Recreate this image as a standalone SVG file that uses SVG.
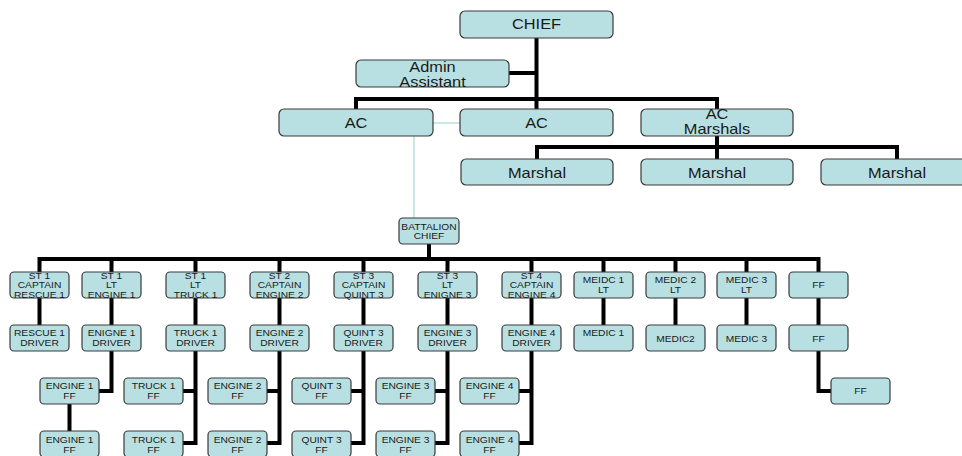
<svg xmlns="http://www.w3.org/2000/svg" width="962" height="456" viewBox="0 0 962 456">
<style>
.b{fill:#b8dfe2;stroke:#3a3a3a;stroke-width:1.2}
.L{font-family:"Liberation Sans",Arial,sans-serif;font-size:14px;fill:#1a1a1a;text-anchor:middle}
.S{font-family:"Liberation Sans",Arial,sans-serif;font-size:9.3px;fill:#1a1a1a;text-anchor:middle}
.k{stroke:#000;stroke-width:4;fill:none}
.lb{stroke:#b8dfe2;stroke-width:1.5;fill:none}
</style>
<rect width="962" height="456" fill="#fff"/>
<g id="connectors">
<path class="k" d="M536.5,38V109M509,73H536.5M356,99H717M356,97V109M717,97V109"/>
<path class="k" d="M717,136V159M537,147H897M537,145V159M897,145V159"/>
<path class="lb" d="M433,123H460M414,136V218"/>
<path class="k" d="M429,244V259M39.5,259H818.5M39.5,257V272M111.5,257V272M195.5,257V272M279.5,257V272M363.5,257V272M447.5,257V272M531.5,257V272M603.5,257V272M675.5,257V272M746.5,257V272M818.5,257V272"/>
<path class="k" d="M39.5,298V325M111.5,298V325M195.5,298V325M279.5,298V325M363.5,298V325M447.5,298V325M531.5,298V325M603.5,298V325M675.5,298V325M746.5,298V325M818.5,298V325"/>
<path class="k" d="M111.5,351V391H99M69.5,404V431"/>
<path class="k" d="M195.5,351V443H183M195.5,391H183"/>
<path class="k" d="M279.5,351V443H267M279.5,391H267"/>
<path class="k" d="M363.5,351V443H351M363.5,391H351"/>
<path class="k" d="M447.5,351V443H435M447.5,391H435"/>
<path class="k" d="M531.5,351V443H519M531.5,391H519"/>
<path class="k" d="M818.5,351V391H831"/>
</g>
<g id="chief"><rect class="b" x="460" y="11" width="153" height="27" rx="5"/><text class="L" transform="translate(536.5,11) scale(1.17,1)"><tspan x="0" y="18.3">CHIEF</tspan></text></g>
<g id="admin"><rect class="b" x="356" y="60" width="153" height="27" rx="5"/><text class="L" transform="translate(432.5,60) scale(1.17,1)"><tspan x="0" y="11.7">Admin</tspan><tspan x="0" y="26.7">Assistant</tspan></text></g>
<g id="ac1"><rect class="b" x="279" y="109" width="154" height="27" rx="5"/><text class="L" transform="translate(356,109) scale(1.17,1)"><tspan x="0" y="19">AC</tspan></text></g>
<g id="ac2"><rect class="b" x="460" y="109" width="153" height="27" rx="5"/><text class="L" transform="translate(536.5,109) scale(1.17,1)"><tspan x="0" y="19">AC</tspan></text></g>
<g id="acm"><rect class="b" x="641" y="109" width="152" height="27" rx="5"/><text class="L" transform="translate(717,109) scale(1.17,1)"><tspan x="0" y="10">AC</tspan><tspan x="0" y="25">Marshals</tspan></text></g>
<g id="m1"><rect class="b" x="461" y="159" width="152" height="26" rx="5"/><text class="L" transform="translate(537,159) scale(1.17,1)"><tspan x="0" y="18.7">Marshal</tspan></text></g>
<g id="m2"><rect class="b" x="641" y="159" width="152" height="26" rx="5"/><text class="L" transform="translate(717,159) scale(1.17,1)"><tspan x="0" y="18.7">Marshal</tspan></text></g>
<g id="m3"><rect class="b" x="821" y="159" width="152" height="26" rx="5"/><text class="L" transform="translate(897,159) scale(1.17,1)"><tspan x="0" y="18.7">Marshal</tspan></text></g>
<g id="bc"><rect class="b" x="399" y="218" width="60" height="26" rx="4"/><text class="S" transform="translate(429,218) scale(1.1,1)"><tspan x="0" y="12">BATTALION</tspan><tspan x="0" y="21.3">CHIEF</tspan></text></g>

<g id="c1r1"><rect class="b" x="10" y="272" width="59" height="26" rx="4"/><text class="S" transform="translate(39.5,272) scale(1.1,1)"><tspan x="0" y="6.5">ST 1</tspan><tspan x="0" y="16.3">CAPTAIN</tspan><tspan x="0" y="26">RESCUE 1</tspan></text></g>
<g id="c1r2"><rect class="b" x="10" y="325" width="59" height="26" rx="4"/><text class="S" transform="translate(39.5,325) scale(1.1,1)"><tspan x="0" y="11.3">RESCUE 1</tspan><tspan x="0" y="21">DRIVER</tspan></text></g>

<g id="c2r1"><rect class="b" x="82" y="272" width="59" height="26" rx="4"/><text class="S" transform="translate(111.5,272) scale(1.1,1)"><tspan x="0" y="6.5">ST 1</tspan><tspan x="0" y="16.3">LT</tspan><tspan x="0" y="26">ENGINE 1</tspan></text></g>
<g id="c2r2"><rect class="b" x="82" y="325" width="59" height="26" rx="4"/><text class="S" transform="translate(111.5,325) scale(1.1,1)"><tspan x="0" y="11.3">ENIGNE 1</tspan><tspan x="0" y="21">DRIVER</tspan></text></g>
<g id="c2r3"><rect class="b" x="40" y="378" width="59" height="26" rx="4"/><text class="S" transform="translate(69.5,378) scale(1.1,1)"><tspan x="0" y="11.3">ENGINE 1</tspan><tspan x="0" y="21.3">FF</tspan></text></g>
<g id="c2r4"><rect class="b" x="40" y="431" width="59" height="26" rx="4"/><text class="S" transform="translate(69.5,431) scale(1.1,1)"><tspan x="0" y="12.3">ENGINE 1</tspan><tspan x="0" y="21.7">FF</tspan></text></g>

<g id="c3r1"><rect class="b" x="166" y="272" width="59" height="26" rx="4"/><text class="S" transform="translate(195.5,272) scale(1.1,1)"><tspan x="0" y="6.5">ST 1</tspan><tspan x="0" y="16.3">LT</tspan><tspan x="0" y="26">TRUCK 1</tspan></text></g>
<g id="c3r2"><rect class="b" x="166" y="325" width="59" height="26" rx="4"/><text class="S" transform="translate(195.5,325) scale(1.1,1)"><tspan x="0" y="11.3">TRUCK 1</tspan><tspan x="0" y="21">DRIVER</tspan></text></g>
<g id="c3r3"><rect class="b" x="124" y="378" width="59" height="26" rx="4"/><text class="S" transform="translate(153.5,378) scale(1.1,1)"><tspan x="0" y="11.3">TRUCK 1</tspan><tspan x="0" y="21.3">FF</tspan></text></g>
<g id="c3r4"><rect class="b" x="124" y="431" width="59" height="26" rx="4"/><text class="S" transform="translate(153.5,431) scale(1.1,1)"><tspan x="0" y="12.3">TRUCK 1</tspan><tspan x="0" y="21.7">FF</tspan></text></g>

<g id="c4r1"><rect class="b" x="250" y="272" width="59" height="26" rx="4"/><text class="S" transform="translate(279.5,272) scale(1.1,1)"><tspan x="0" y="6.5">ST 2</tspan><tspan x="0" y="16.3">CAPTAIN</tspan><tspan x="0" y="26">ENGINE 2</tspan></text></g>
<g id="c4r2"><rect class="b" x="250" y="325" width="59" height="26" rx="4"/><text class="S" transform="translate(279.5,325) scale(1.1,1)"><tspan x="0" y="11.3">ENGINE 2</tspan><tspan x="0" y="21">DRIVER</tspan></text></g>
<g id="c4r3"><rect class="b" x="208" y="378" width="59" height="26" rx="4"/><text class="S" transform="translate(237.5,378) scale(1.1,1)"><tspan x="0" y="11.3">ENGINE 2</tspan><tspan x="0" y="21.3">FF</tspan></text></g>
<g id="c4r4"><rect class="b" x="208" y="431" width="59" height="26" rx="4"/><text class="S" transform="translate(237.5,431) scale(1.1,1)"><tspan x="0" y="12.3">ENGINE 2</tspan><tspan x="0" y="21.7">FF</tspan></text></g>

<g id="c5r1"><rect class="b" x="334" y="272" width="59" height="26" rx="4"/><text class="S" transform="translate(363.5,272) scale(1.1,1)"><tspan x="0" y="6.5">ST 3</tspan><tspan x="0" y="16.3">CAPTAIN</tspan><tspan x="0" y="26">QUINT 3</tspan></text></g>
<g id="c5r2"><rect class="b" x="334" y="325" width="59" height="26" rx="4"/><text class="S" transform="translate(363.5,325) scale(1.1,1)"><tspan x="0" y="11.3">QUINT 3</tspan><tspan x="0" y="21">DRIVER</tspan></text></g>
<g id="c5r3"><rect class="b" x="292" y="378" width="59" height="26" rx="4"/><text class="S" transform="translate(321.5,378) scale(1.1,1)"><tspan x="0" y="11.3">QUINT 3</tspan><tspan x="0" y="21.3">FF</tspan></text></g>
<g id="c5r4"><rect class="b" x="292" y="431" width="59" height="26" rx="4"/><text class="S" transform="translate(321.5,431) scale(1.1,1)"><tspan x="0" y="12.3">QUINT 3</tspan><tspan x="0" y="21.7">FF</tspan></text></g>

<g id="c6r1"><rect class="b" x="418" y="272" width="59" height="26" rx="4"/><text class="S" transform="translate(447.5,272) scale(1.1,1)"><tspan x="0" y="6.5">ST 3</tspan><tspan x="0" y="16.3">LT</tspan><tspan x="0" y="26">ENIGNE 3</tspan></text></g>
<g id="c6r2"><rect class="b" x="418" y="325" width="59" height="26" rx="4"/><text class="S" transform="translate(447.5,325) scale(1.1,1)"><tspan x="0" y="11.3">ENGINE 3</tspan><tspan x="0" y="21">DRIVER</tspan></text></g>
<g id="c6r3"><rect class="b" x="376" y="378" width="59" height="26" rx="4"/><text class="S" transform="translate(405.5,378) scale(1.1,1)"><tspan x="0" y="11.3">ENGINE 3</tspan><tspan x="0" y="21.3">FF</tspan></text></g>
<g id="c6r4"><rect class="b" x="376" y="431" width="59" height="26" rx="4"/><text class="S" transform="translate(405.5,431) scale(1.1,1)"><tspan x="0" y="12.3">ENGINE 3</tspan><tspan x="0" y="21.7">FF</tspan></text></g>

<g id="c7r1"><rect class="b" x="502" y="272" width="59" height="26" rx="4"/><text class="S" transform="translate(531.5,272) scale(1.1,1)"><tspan x="0" y="6.5">ST 4</tspan><tspan x="0" y="16.3">CAPTAIN</tspan><tspan x="0" y="26">ENGINE 4</tspan></text></g>
<g id="c7r2"><rect class="b" x="502" y="325" width="59" height="26" rx="4"/><text class="S" transform="translate(531.5,325) scale(1.1,1)"><tspan x="0" y="11.3">ENGINE 4</tspan><tspan x="0" y="21">DRIVER</tspan></text></g>
<g id="c7r3"><rect class="b" x="460" y="378" width="59" height="26" rx="4"/><text class="S" transform="translate(489.5,378) scale(1.1,1)"><tspan x="0" y="11.3">ENGINE 4</tspan><tspan x="0" y="21.3">FF</tspan></text></g>
<g id="c7r4"><rect class="b" x="460" y="431" width="59" height="26" rx="4"/><text class="S" transform="translate(489.5,431) scale(1.1,1)"><tspan x="0" y="12.3">ENGINE 4</tspan><tspan x="0" y="21.7">FF</tspan></text></g>

<g id="c8r1"><rect class="b" x="574" y="272" width="59" height="26" rx="4"/><text class="S" transform="translate(603.5,272) scale(1.1,1)"><tspan x="0" y="11.3">MEIDC 1</tspan><tspan x="0" y="20.7">LT</tspan></text></g>
<g id="c8r2"><rect class="b" x="574" y="325" width="59" height="26" rx="4"/><text class="S" transform="translate(603.5,325) scale(1.1,1)"><tspan x="0" y="11">MEDIC 1</tspan></text></g>
<g id="c9r1"><rect class="b" x="646" y="272" width="59" height="26" rx="4"/><text class="S" transform="translate(675.5,272) scale(1.1,1)"><tspan x="0" y="11.3">MEDIC 2</tspan><tspan x="0" y="20.7">LT</tspan></text></g>
<g id="c9r2"><rect class="b" x="646" y="325" width="59" height="26" rx="4"/><text class="S" transform="translate(675.5,325) scale(1.1,1)"><tspan x="0" y="16.7">MEDIC2</tspan></text></g>
<g id="c10r1"><rect class="b" x="717" y="272" width="59" height="26" rx="4"/><text class="S" transform="translate(746.5,272) scale(1.1,1)"><tspan x="0" y="11.3">MEDIC 3</tspan><tspan x="0" y="20.7">LT</tspan></text></g>
<g id="c10r2"><rect class="b" x="717" y="325" width="59" height="26" rx="4"/><text class="S" transform="translate(746.5,325) scale(1.1,1)"><tspan x="0" y="16.7">MEDIC 3</tspan></text></g>
<g id="c11r1"><rect class="b" x="789" y="272" width="59" height="26" rx="4"/><text class="S" transform="translate(818.5,272) scale(1.1,1)"><tspan x="0" y="16.3">FF</tspan></text></g>
<g id="c11r2"><rect class="b" x="789" y="325" width="59" height="26" rx="4"/><text class="S" transform="translate(818.5,325) scale(1.1,1)"><tspan x="0" y="16.7">FF</tspan></text></g>
<g id="c11r3"><rect class="b" x="831" y="378" width="59" height="26" rx="4"/><text class="S" transform="translate(860.5,378) scale(1.1,1)"><tspan x="0" y="16.3">FF</tspan></text></g>
</svg>
